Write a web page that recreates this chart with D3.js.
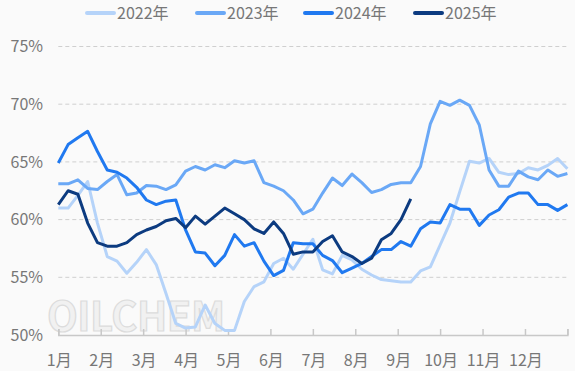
<!DOCTYPE html>
<html>
<head>
<meta charset="utf-8">
<script src="https://cdn.jsdelivr.net/npm/d3@7"></script>
<style>
  html, body { margin: 0; padding: 0; background: #fafafa; }
  svg { display: block; font-family: "Noto Sans CJK SC", "Noto Sans", sans-serif; }
</style>
</head>
<body>
<svg id="chart"></svg>
<script>
// weekly values, 53 weeks per year
const years = ["2022年", "2023年", "2024年", "2025年"];
const colors = ["#b5d3f9", "#6aa8f6", "#2079f0", "#0c3b80"];
const months = ["1月", "2月", "3月", "4月", "5月", "6月", "7月", "8月", "9月", "10月", "11月", "12月"];
const yTicks = [50, 55, 60, 65, 70, 75];

const d2022 = [61.0, 61.0, 62.1, 63.3, 59.7, 56.8, 56.4, 55.35, 56.3, 57.4, 56.1, 53.6, 51.0, 50.6,
  50.7, 52.6, 51.0, 50.4, 50.4, 52.9, 54.2, 54.6, 56.2, 56.65, 55.7, 57.0,
  58.3, 55.65, 55.3, 56.9, 56.5, 55.7, 55.2, 54.8, 54.7, 54.6, 54.6, 55.55, 55.9,
  57.8, 59.7, 62.4, 65.05, 64.9, 65.3, 64.1, 63.9, 64.0, 64.5, 64.3, 64.7, 65.3, 64.4];
const d2023 = [63.1, 63.1, 63.45, 62.7, 62.6, 63.3, 63.9, 62.15, 62.3, 62.95, 62.9, 62.6, 63.0, 64.2,
  64.6, 64.3, 64.75, 64.5, 65.1, 64.9, 65.1, 63.2, 62.9, 62.5, 61.7, 60.5,
  60.9, 62.3, 63.6, 62.95, 63.95, 63.2, 62.35, 62.6, 63.05, 63.2, 63.2, 64.6, 68.3,
  70.25, 69.9, 70.35, 69.9, 68.2, 64.3, 62.9, 62.9, 64.2, 63.7, 63.45, 64.3, 63.75, 64.0];
const d2024 = [64.9, 66.5, 67.1, 67.65, 65.9, 64.3, 64.1, 63.6, 62.8, 61.7, 61.3, 61.6, 61.7, 59.1,
  57.2, 57.1, 56.0, 56.9, 58.7, 57.7, 58.0, 56.4, 55.15, 55.6, 58.0, 57.9,
  57.9, 56.9, 56.45, 55.4, 55.8, 56.2, 56.8, 57.4, 57.4, 58.1, 57.7, 59.2, 59.8,
  59.7, 61.3, 60.9, 60.9, 59.5, 60.4, 60.85, 61.95, 62.3, 62.3, 61.3, 61.3, 60.8, 61.3];
const d2025 = [61.3, 62.5, 62.2, 59.7, 58.0, 57.7, 57.7, 58.0, 58.7, 59.1, 59.4, 59.9, 60.1, 59.3,
  60.3, 59.6, 60.3, 61.0, 60.5, 60.0, 59.2, 58.8, 59.8, 58.8, 57.0, 57.2,
  57.2, 58.1, 58.6, 57.2, 56.8, 56.2, 56.65, 58.25, 58.8, 60.0, 61.8];

const series = [d2022, d2023, d2024, d2025];

const W = 575, H = 371;
const svg = d3.select("#chart").attr("width", W).attr("height", H);

const x = d3.scaleLinear().domain([0, 52]).range([58.3, 567.4]);
const y = d3.scaleLinear().domain([50, 75]).range([335, 46.5]);

// watermark
svg.append("text")
    .attr("x", 47).attr("y", 331)
    .attr("textLength", 178)
    .attr("font-size", 40)
    .attr("font-weight", "bold")
    .attr("fill", "#f1f1f1")
    .attr("stroke", "#dcdcdc")
    .attr("stroke-width", 1.2)
    .text("OILCHEM");

// grid
svg.append("g")
    .selectAll("line")
    .data(yTicks.filter(d => d > 50))
    .join("line")
    .attr("x1", x(0)).attr("x2", x(52))
    .attr("y1", d => y(d)).attr("y2", d => y(d))
    .attr("stroke", "#cfcfcf")
    .attr("stroke-dasharray", "4,3");

// y labels
svg.append("g")
    .selectAll("text")
    .data(yTicks)
    .join("text")
    .attr("x", 43)
    .attr("y", d => y(d))
    .attr("dy", "0.35em")
    .attr("text-anchor", "end")
    .attr("font-size", 16)
    .attr("fill", "#777")
    .text(d => d + "%");

// x axis
const monthPos = d3.range(13).map(m => m * 52 / 12);
const xAxis = svg.append("g")
    .attr("transform", `translate(0,${y(50)})`)
    .call(d3.axisBottom(x).tickValues(monthPos).tickSize(-6).tickFormat(""));
xAxis.select(".domain").attr("stroke", "#c8c8c8").attr("stroke-width", 1.5);
xAxis.selectAll(".tick line").attr("stroke", "#c8c8c8").attr("stroke-width", 1.5);

svg.append("g")
    .selectAll("text")
    .data(months)
    .join("text")
    .attr("x", (d, i) => x(monthPos[i]) + 1)
    .attr("y", 360)
    .attr("dy", "0.35em")
    .attr("text-anchor", "middle")
    .attr("font-size", 16)
    .attr("fill", "#777")
    .text(d => d);

// lines
const line = d3.line()
    .x((d, i) => x(i))
    .y(d => y(d));

svg.append("g")
    .selectAll("path")
    .data(series)
    .join("path")
    .attr("d", d => line(d))
    .attr("fill", "none")
    .attr("stroke", (d, i) => colors[i])
    .attr("stroke-width", 3)
    .attr("stroke-linejoin", "round");

// legend
const legendX = [87, 197, 305, 415];
const legend = svg.append("g")
    .selectAll("g")
    .data(years)
    .join("g")
    .attr("transform", (d, i) => `translate(${legendX[i]},13)`);
legend.append("line")
    .attr("x1", 0).attr("x2", 27)
    .attr("stroke", (d, i) => colors[i])
    .attr("stroke-width", 4)
    .attr("stroke-linecap", "round");
legend.append("text")
    .attr("x", 30)
    .attr("dy", "0.35em")
    .attr("font-size", 16)
    .attr("fill", "#777")
    .text(d => d);
</script>
</body>
</html>
